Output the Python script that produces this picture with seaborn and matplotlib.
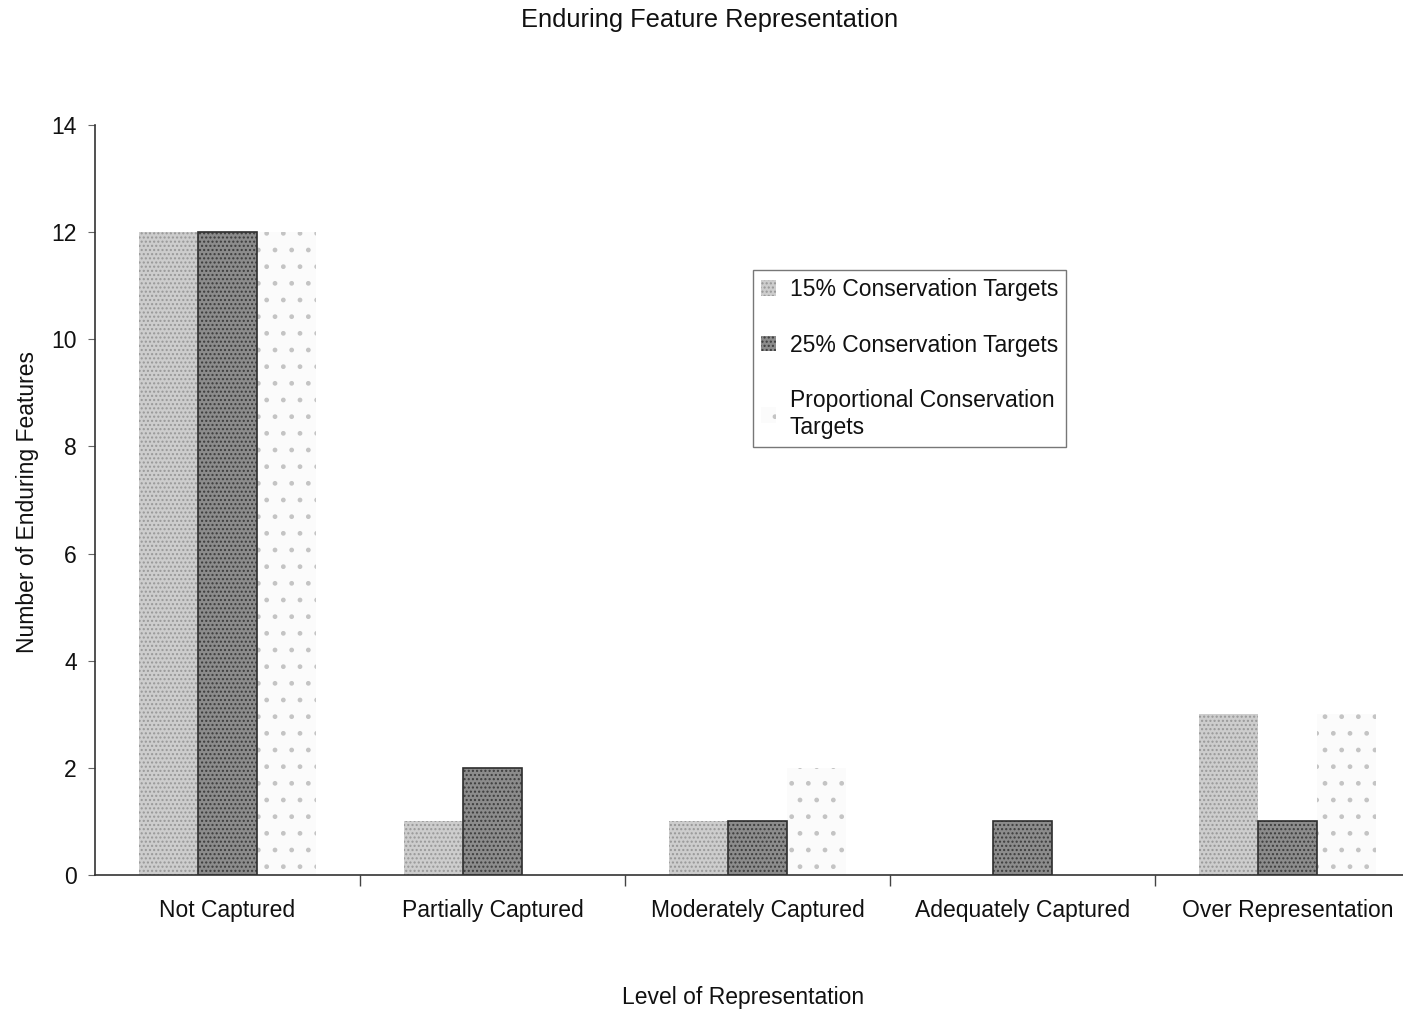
import matplotlib
matplotlib.use("Agg")
import matplotlib.pyplot as plt
from matplotlib.patches import Patch
import pandas as pd
import seaborn as sns

# Data: number of enduring features per level of representation
categories = ["Not Captured", "Partially Captured", "Moderately Captured",
              "Adequately Captured", "Over Representation"]
series_names = ["15% Conservation Targets", "25% Conservation Targets",
                "Proportional Conservation Targets"]
targets_15 = [12, 1, 1, 0, 3]
targets_25 = [12, 2, 1, 1, 1]
targets_prop = [12, 0, 2, 0, 3]
y_ticks = [0, 2, 4, 6, 8, 10, 12, 14]

df = pd.DataFrame({
    "Level": categories * 3,
    "Series": [s for s in series_names for _ in categories],
    "Count": targets_15 + targets_25 + targets_prop,
})

sns.set_theme(style="white")
plt.rcParams["font.family"] = ["Liberation Sans", "DejaVu Sans"]
plt.rcParams["hatch.linewidth"] = 1.0
plt.rcParams["text.color"] = "#111111"
plt.rcParams["xtick.color"] = "#111111"
plt.rcParams["ytick.color"] = "#111111"

FS = 16.5

fig = plt.figure(figsize=(14.03, 10.13), dpi=100)
ax = fig.add_axes([95 / 1403, 138 / 1013, 1325 / 1403, 750 / 1013])

face = ["#cdcdcd", "#8c8c8c", "#fbfbfb"]
hatch_col = ["#989898", "#3c3c3c", "#c4c4c4"]
hatches = ["....", "....", ". "]

sns.barplot(data=df, x="Level", y="Count", hue="Series", order=categories,
            hue_order=series_names, width=0.67, ax=ax, legend=False,
            palette=face, saturation=1)

for i, cont in enumerate(ax.containers):
    for bar in cont:
        bar.set_facecolor(face[i])
        bar.set_hatch(hatches[i])
        bar.set_edgecolor(hatch_col[i])
        bar.set_linewidth(0)
        if bar.get_height() == 0:
            bar.set_visible(False)
    if i == 1:
        for bar in cont:
            if bar.get_height() > 0:
                outline = plt.Rectangle(bar.get_xy(), bar.get_width(), bar.get_height(),
                                        fill=False, edgecolor="#2e2e2e", linewidth=1.2,
                                        zorder=bar.get_zorder() + 0.1)
                ax.add_patch(outline)

ax.set_ylim(0, 14)
ax.set_xlim(-0.5, 4.5)
ax.set_yticks(y_ticks)
ax.set_yticklabels([str(v) for v in y_ticks], fontsize=FS)
ax.set_xticks(range(len(categories)))
ax.set_xticklabels(categories, fontsize=FS)
ax.set_xticks([0.5, 1.5, 2.5, 3.5], minor=True)
ax.tick_params(axis="x", which="major", length=0, pad=17)
ax.tick_params(axis="x", which="minor", length=8, width=1, color="#444444",
               direction="out", bottom=True)
ax.tick_params(axis="y", length=5, width=0.8, color="#666666", direction="out",
               left=True, pad=8)
ax.set_xlabel("")
ax.set_ylabel("")

for side in ["top", "right"]:
    ax.spines[side].set_visible(False)
for side in ["left", "bottom"]:
    ax.spines[side].set_color("#333333")
    ax.spines[side].set_linewidth(1.2)

handles = [Patch(facecolor=face[i], edgecolor=hatch_col[i], hatch=hatches[i], linewidth=0)
           for i in range(3)]
labels = ["15% Conservation Targets", "25% Conservation Targets",
          "Proportional Conservation\nTargets"]
leg = ax.legend(handles, labels, loc="upper left",
                bbox_to_anchor=((753 - 95) / 1325, (875 - 270) / 750),
                fontsize=FS, frameon=True, fancybox=False, edgecolor="#555555",
                handlelength=0.65, handleheight=0.65, handletextpad=0.6,
                labelspacing=1.42, borderpad=0.35, borderaxespad=0)
leg.get_frame().set_linewidth(1.0)

fig.text(710 / 1403, 1 - 20 / 1013, "Enduring Feature Representation",
         ha="center", va="center", fontsize=18.3)
fig.text(743 / 1403, 1 - 997 / 1013, "Level of Representation",
         ha="center", va="center", fontsize=FS)
fig.text(28 / 1403, 1 - 502 / 1013, "Number of Enduring Features",
         ha="center", va="center", rotation=90, fontsize=FS)

fig.savefig("out.png", dpi=100)
